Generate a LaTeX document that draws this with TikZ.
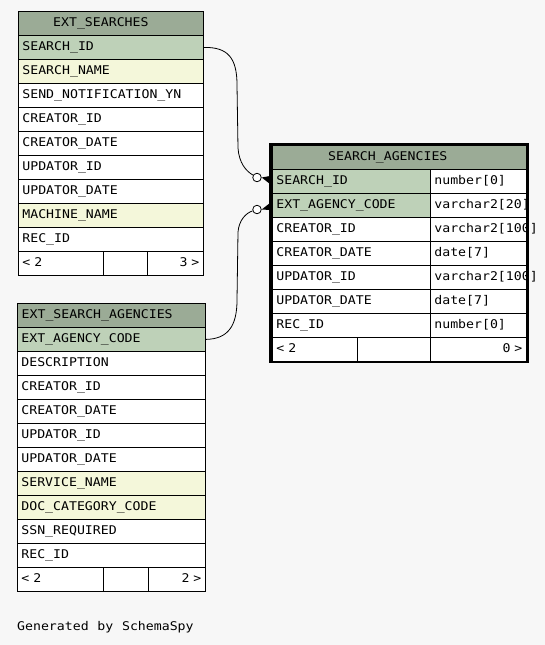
\documentclass[tikz,border=0pt]{standalone}
\usepackage{fontspec}
\newfontfamily\dbfont{DejaVu Sans Mono}[FakeStretch=1.1,WordSpace=1.1]
\definecolor{bgc}{HTML}{F7F7F7}
\definecolor{hdrc}{HTML}{9BAB96}
\definecolor{pkc}{HTML}{BED1B8}
\definecolor{idxc}{HTML}{F4F7DA}
\begin{document}
\begin{tikzpicture}[x=1pt,y=-1pt,
  dbtxt/.style={font=\dbfont\fontsize{12}{14}\selectfont, text height=9pt, text depth=3pt},
  cellbox/.style={dbtxt, draw=black, line width=0.8pt, anchor=north west, inner xsep=4pt, inner ysep=0pt, minimum height=24pt, align=left},
  rcellbox/.style={cellbox, align=right},
  hdrbox/.style={draw=black, line width=0.8pt, fill=hdrc, anchor=north west, inner sep=0pt, minimum height=24pt},
  lbl/.style={dbtxt, inner sep=0pt, anchor=west},
  link/.style={draw=black, line width=0.8pt},
  optcirc/.style={circle, draw=black, fill=white, line width=0.8pt, minimum size=8.5pt, inner sep=0pt}]
\useasboundingbox (0,0) rectangle (545,645);
\fill[bgc] (0,0) rectangle (545,645);

% ---------- EXT_SEARCHES ----------
\node[hdrbox, minimum width=185pt] (esh) at (18,11) {};
\node[lbl] (esht) at (53,23) {EXT\_SEARCHES};
\foreach \t/\c [count=\i] in {SEARCH\_ID/pkc, SEARCH\_NAME/idxc, SEND\_NOTIFICATION\_YN/white,
  CREATOR\_ID/white, CREATOR\_DATE/white, UPDATOR\_ID/white, UPDATOR\_DATE/white,
  MACHINE\_NAME/idxc, REC\_ID/white}
  \node[cellbox, fill=\c, text width=177pt] (es\i) at (18,{35+24*(\i-1)}) {\t};
\node[cellbox, fill=white, text width=76.7pt] (esf1) at (18,251) {< 2};
\node[cellbox, fill=white, text width=36pt] (esf2) at (102.7,251) {};
\node[rcellbox, fill=white, text width=48.3pt] (esf3) at (146.7,251) {3 >};

% ---------- EXT_SEARCH_AGENCIES ----------
\node[hdrbox, minimum width=188pt] (esah) at (17,303) {};
\node[lbl] (esaht) at (21.5,315) {EXT\_SEARCH\_AGENCIES};
\foreach \t/\c [count=\i] in {EXT\_AGENCY\_CODE/pkc, DESCRIPTION/white, CREATOR\_ID/white,
  CREATOR\_DATE/white, UPDATOR\_ID/white, UPDATOR\_DATE/white, SERVICE\_NAME/idxc,
  DOC\_CATEGORY\_CODE/idxc, SSN\_REQUIRED/white, REC\_ID/white}
  \node[cellbox, fill=\c, text width=180pt] (esa\i) at (17,{327+24*(\i-1)}) {\t};
\node[cellbox, fill=white, text width=77.7pt] (esaf1) at (17,567) {< 2};
\node[cellbox, fill=white, text width=37pt] (esaf2) at (102.7,567) {};
\node[rcellbox, fill=white, text width=49.3pt] (esaf3) at (147.7,567) {2 >};

% ---------- SEARCH_AGENCIES ----------
\node[hdrbox, minimum width=254pt] (sah) at (272,145) {};
\node[lbl] (saht) at (328,157) {SEARCH\_AGENCIES};
\foreach \t/\ty/\c [count=\i] in {SEARCH\_ID/number[0]/pkc, EXT\_AGENCY\_CODE/varchar2[20]/pkc,
  CREATOR\_ID/varchar2[100]/white, CREATOR\_DATE/date[7]/white, UPDATOR\_ID/varchar2[100]/white,
  UPDATOR\_DATE/date[7]/white, REC\_ID/number[0]/white}
{
  \node[cellbox, fill=\c, text width=150pt] (sa\i) at (272,{169+24*(\i-1)}) {\t};
  \node[cellbox, fill=white, text width=88pt] (sat\i) at (430,{169+24*(\i-1)}) {\mbox{\ty}};
}
\node[cellbox, fill=white, text width=77pt] (saf1) at (272,337) {< 2};
\node[cellbox, fill=white, text width=65pt] (saf2) at (357,337) {};
\node[rcellbox, fill=white, text width=88pt] (saf3) at (430,337) {0 >};
\draw[line width=2.6pt] (270.5,144) rectangle (527.3,362);

% ---------- connectors ----------
\node[optcirc] (o1) at (257,177.5) {};
\node[optcirc] (o2) at (257,209.5) {};
\coordinate (k1) at (270,180);
\coordinate (k2) at (270,206.5);
\draw[link] (es1.east) .. controls (228,47) and (237,58) .. (237,85)
  -- (238,148) .. controls (239,163) and (246,171) .. (o1);
\draw[link] (esa1.east) .. controls (228,339) and (237,326) .. (237,300)
  -- (238,232) .. controls (239,220) and (246,213) .. (o2);
\fill (o1.east) -- ([yshift=4pt]k1) -- ([yshift=-4pt]k1) -- cycle;
\fill (o2.east) -- ([yshift=3.5pt]k2) -- ([yshift=-3.5pt]k2) -- cycle;

\node[lbl] (gen) at (17,627) {Generated by SchemaSpy};
\end{tikzpicture}
\end{document}
